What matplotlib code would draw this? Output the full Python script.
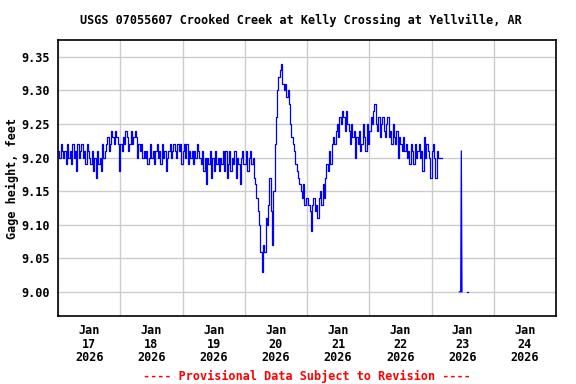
import numpy as np
import pandas as pd
import matplotlib
matplotlib.use("Agg")
import matplotlib.pyplot as plt

# gage height in hundredths of a foot above 9.00 ft, every 30 min from Jan 17 00:00
jan17 = "21 20 22 21 20 21 19 22 20 21 19 22 20 21 18 22 20 21 22 20 21 19 22 21 20 19 21 18 20 17 21 19 20 18 22 20 21 22 23 21 22 24 23 22 24 23 22 18"
jan18 = "22 21 23 22 24 23 21 22 24 22 23 24 23 20 22 21 22 20 21 20 21 19 20 22 20 21 19 21 22 20 21 19 22 20 21 18 20 21 22 20 21 22 21 20 22 21 22 19"
jan19 = "21 22 20 22 19 21 20 21 19 21 20 22 21 20 19 21 18 20 16 20 19 21 17 20 18 21 19 20 18 20 19 21 18 21 17 19 21 18 20 19 21 17 20 19 16 20 21 19"
jan20 = "19 21 18 20 21 19 20 17 16 14 12 10 06 03 07 06 11 10 13 17 12 07 15 22 26 30 32 33 34 31 30 31 29 30 28 25 23 22 21 19 18 17 16 15 14 16 13 14"
jan21 = "14 13 12 09 13 14 12 13 11 14 15 13 16 14 17 19 18 21 19 22 23 22 24 25 23 26 25 27 26 24 27 25 24 22 25 23 24 20 23 22 24 21 22 25 23 21 25 22"
jan22 = "24 26 25 27 28 25 24 26 23 25 26 24 23 25 26 23 24 22 25 23 22 24 20 23 22 21 23 21 22 20 21 19 22 21 19 22 20 21 22 20 21 18 23 20 22 21 20 17"
jan23 = "21 22 20 17 21 20 20 20 20"

vals = []
for day in [jan17, jan18, jan19, jan20, jan21, jan22, jan23]:
    vals += [9 + int(v) / 100 for v in day.split()]
times = pd.date_range("2026-01-17 00:00", periods=len(vals), freq="30min")

# short bit of record on Jan 23
spike_times = pd.to_datetime(["2026-01-23 10:45", "2026-01-23 11:15", "2026-01-23 11:30", "2026-01-23 11:45"])
spike_vals = [9.00, 9.00, 9.21, 9.00]
dot_times = pd.to_datetime(["2026-01-23 13:45", "2026-01-23 14:00"])
dot_vals = [9.00, 9.00]

yticks = [9.00, 9.05, 9.10, 9.15, 9.20, 9.25, 9.30, 9.35]
days = pd.date_range("2026-01-17", "2026-01-25", freq="D")
noons = days[:-1] + pd.Timedelta(hours=12)
day_labels = ["Jan\n%d\n2026" % d.day for d in noons]

font = {"family": "DejaVu Sans Mono", "weight": "bold", "size": 8.5}

fig = plt.figure(figsize=(5.76, 3.84), dpi=100)
ax = fig.add_axes([58 / 576, 1 - 316 / 384, 498 / 576, 276 / 384])

ax.plot(times, vals, color="#0000ff", lw=0.9, drawstyle="steps-post")
ax.plot(spike_times, spike_vals, color="#0000ff", lw=0.9)
ax.plot(dot_times, dot_vals, color="#0000ff", lw=0.9)

ax.set_xlim(days[0], days[-1])
ax.set_ylim(8.964, 9.375)
ax.set_yticks(yticks)
ax.set_yticklabels(["%.2f" % y for y in yticks], fontdict=font)
ax.set_xticks(days)
ax.set_xticklabels([""] * len(days))
ax.set_xticks(noons, minor=True)
ax.set_xticklabels(day_labels, minor=True, fontdict=font, linespacing=1.05)
ax.tick_params(which="both", length=0)
ax.tick_params(axis="y", pad=6)
ax.tick_params(axis="x", which="minor", pad=6)
ax.grid(True, which="major", color="#cccccc", lw=1)
ax.set_axisbelow(True)
for s in ax.spines.values():
    s.set_linewidth(1.2)

fig.text(301 / 576, 1 - 20 / 384, "USGS 07055607 Crooked Creek at Kelly Crossing at Yellville, AR",
         ha="center", va="center", **font)
fig.text(12 / 576, 1 - 178 / 384, "Gage height, feet", rotation=90, ha="center", va="center", **font)
fig.text(307 / 576, 1 - 376 / 384, "---- Provisional Data Subject to Revision ----",
         ha="center", va="center", color="red", **font)

fig.savefig("out.png", dpi=100)
